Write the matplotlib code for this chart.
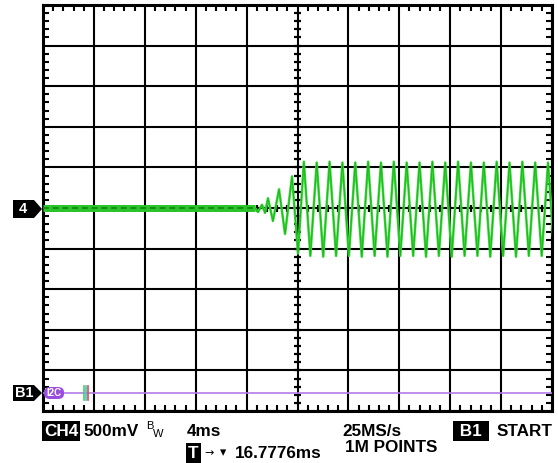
import matplotlib
matplotlib.use("Agg")
import matplotlib.pyplot as plt
from matplotlib.ticker import MultipleLocator
from matplotlib.patches import Polygon, FancyBboxPatch

# ---------------- data ----------------
# time in ms (4 ms/div, 10 div), voltage in V (500 mV/div, 10 div)
flat_t = [0.0, 16.66]
flat_v = [0.0, 0.0]

trans_t = [16.66, 16.90, 17.21, 17.45, 17.68, 18.07, 18.55, 19.02, 19.57, 20.04]
trans_v = [0.00, -0.05, 0.04, -0.06, 0.12, -0.16, 0.23, -0.32, 0.39, -0.56]

peak_t = [20.50, 21.51, 22.52, 23.53, 24.54, 25.55, 26.56, 27.57, 28.58, 29.59,
          30.60, 31.61, 32.62, 33.63, 34.64, 35.65, 36.66, 37.67, 38.68, 39.69]
peak_v = [0.57, 0.56, 0.57, 0.56, 0.56, 0.57, 0.56, 0.57, 0.56, 0.56,
          0.57, 0.56, 0.57, 0.56, 0.56, 0.57, 0.56, 0.57, 0.56, 0.56]
trough_t = [21.01, 22.02, 23.03, 24.04, 25.05, 26.06, 27.07, 28.08, 29.09, 30.10,
            31.11, 32.12, 33.13, 34.14, 35.15, 36.16, 37.17, 38.18, 39.19, 40.20]
trough_v = [-0.59, -0.60, -0.59, -0.59, -0.60, -0.59, -0.60, -0.59, -0.59, -0.60,
            -0.59, -0.60, -0.59, -0.59, -0.60, -0.59, -0.60, -0.59, -0.59, -0.60]

x_range = [0.0, 40.0]
y_range = [-2.5, 2.5]

# ---------------- figure ----------------
W, H = 558, 463
fig = plt.figure(figsize=(W / 100, H / 100), dpi=100)
fig.patch.set_facecolor("white")

def fx(x):
    return x / W

def fy(y):
    return 1 - y / H

L, R, T, B = 43, 552, 5, 411
ax = fig.add_axes([fx(L), fy(B), (R - L) / W, (B - T) / H])
ax.set_xlim(*x_range)
ax.set_ylim(*y_range)

ax.xaxis.set_major_locator(MultipleLocator(4))
ax.yaxis.set_major_locator(MultipleLocator(0.5))
ax.xaxis.set_minor_locator(MultipleLocator(0.8))
ax.yaxis.set_minor_locator(MultipleLocator(0.1))
ax.grid(which="major", color="black", linewidth=1.5)
ax.tick_params(which="major", length=0, labelbottom=False, labelleft=False)
ax.tick_params(which="minor", direction="in", length=4, width=1.5, color="black",
               top=True, right=True, bottom=True, left=True)
for s in ax.spines.values():
    s.set_linewidth(2.2)
    s.set_color("black")
ax.set_axisbelow(True)

# center cross ticks
xm = ax.xaxis.get_minor_locator().tick_values(*x_range)
ym = ax.yaxis.get_minor_locator().tick_values(*y_range)
dv = 3.5 / 40.6 * 0.5
dt = 3.5 / 50.9 * 4
ax.vlines([v for v in xm if 0 < v < 40], -dv, dv, color="black", linewidth=1.6, zorder=2)
ax.hlines([v for v in ym if -2.5 < v < 2.5], 20 - dt, 20 + dt, color="black", linewidth=1.6, zorder=2)

# trace
ax.plot(flat_t, flat_v, color="#2ac42a", linewidth=5.0, solid_capstyle="butt", zorder=3)
ax.plot(flat_t, flat_v, color="#138f13", linewidth=1.4, linestyle=(0, (3, 2)), zorder=4)

wave_t = trans_t + sorted(peak_t + trough_t)
wave_v_map = dict(zip(peak_t + trough_t, peak_v + trough_v))
wave_v = trans_v + [wave_v_map[t] for t in sorted(peak_t + trough_t)]
ax.plot(wave_t, wave_v, color="#3ad83a", linewidth=1.8, zorder=3, clip_on=True)
ax.plot(wave_t, wave_v, color="#18b418", linewidth=0.6, zorder=4, clip_on=True)

# bus B1 line
ax.axhline(-2.28, color="#b47ce6", linewidth=1.2, zorder=3)

# ---------------- overlays in pixel coords ----------------
def pentagon(x0, x1, xt, y0, y1):
    ym_ = (y0 + y1) / 2
    pts = [(x0, y0), (x1, y0), (xt, ym_), (x1, y1), (x0, y1)]
    return Polygon([(fx(a), fy(b)) for a, b in pts], closed=True,
                   transform=fig.transFigure, facecolor="black", edgecolor="none")

fig.patches.append(pentagon(13, 34, 42, 200, 218))
fig.text(fx(23), fy(209), "4", color="white", fontsize=10.5, fontweight="bold",
         family="Liberation Sans", ha="center", va="center")
fig.patches.append(pentagon(13, 34, 42, 385, 401))
fig.text(fx(24), fy(393), "B1", color="white", fontsize=10.5, fontweight="bold",
         family="Liberation Sans", ha="center", va="center")

# I2C pill
pill = FancyBboxPatch((fx(44), fy(399)), (64 - 44) / W, 12 / H,
                      boxstyle="round,pad=0,rounding_size=0.011",
                      transform=fig.transFigure, facecolor="#9a4ee0", edgecolor="none",
                      zorder=5)
fig.patches.append(pill)
fig.text(fx(54), fy(393), "I2C", color="white", fontsize=7, fontweight="bold",
         family="Liberation Sans", ha="center", va="center", zorder=6)
for xx, cc in [(84, "#4cd34c"), (86, "#35c8e8"), (88, "#e04848")]:
    fig.add_artist(plt.Line2D([fx(xx), fx(xx)], [fy(386), fy(400)], color=cc,
                              linewidth=1.2, transform=fig.transFigure))

# bottom annotations
fs = 12.3
kw = dict(fontsize=fs, fontweight="bold", family="Liberation Sans", va="center", ha="left")
box = dict(facecolor="black", edgecolor="none", boxstyle="square,pad=0.12")
fig.text(fx(44), fy(431), "CH4", color="white", bbox=box, **kw)
fig.text(fx(83), fy(431), "500mV", color="black", **kw)
fig.text(fx(146), fy(426), "B", color="black", fontsize=8, family="Liberation Sans",
         va="center", ha="left")
fig.text(fx(153), fy(434), "W", color="black", fontsize=8, family="Liberation Sans",
         va="center", ha="left")
fig.text(fx(187), fy(431), "4ms", color="black", **kw)
fig.text(fx(342), fy(431), "25MS/s", color="black", **kw)
fig.text(fx(345), fy(447), "1M POINTS", color="black", **kw)
fig.text(fx(455), fy(431), " B1 ", color="white", bbox=box, **kw)
fig.text(fx(497), fy(431), "START", color="black", **kw)
fig.text(fx(188), fy(453), "T", color="white", bbox=box, **kw)
fig.text(fx(204), fy(453), "\u2192", color="black", fontsize=8, family="DejaVu Sans",
         va="center", ha="left")
fig.text(fx(220), fy(453), "\u25be", color="black", fontsize=9, family="DejaVu Sans",
         va="center", ha="left")
fig.text(fx(235), fy(453), "16.7776ms", color="black", **kw)

fig.savefig("out.png", dpi=100, facecolor="white")
